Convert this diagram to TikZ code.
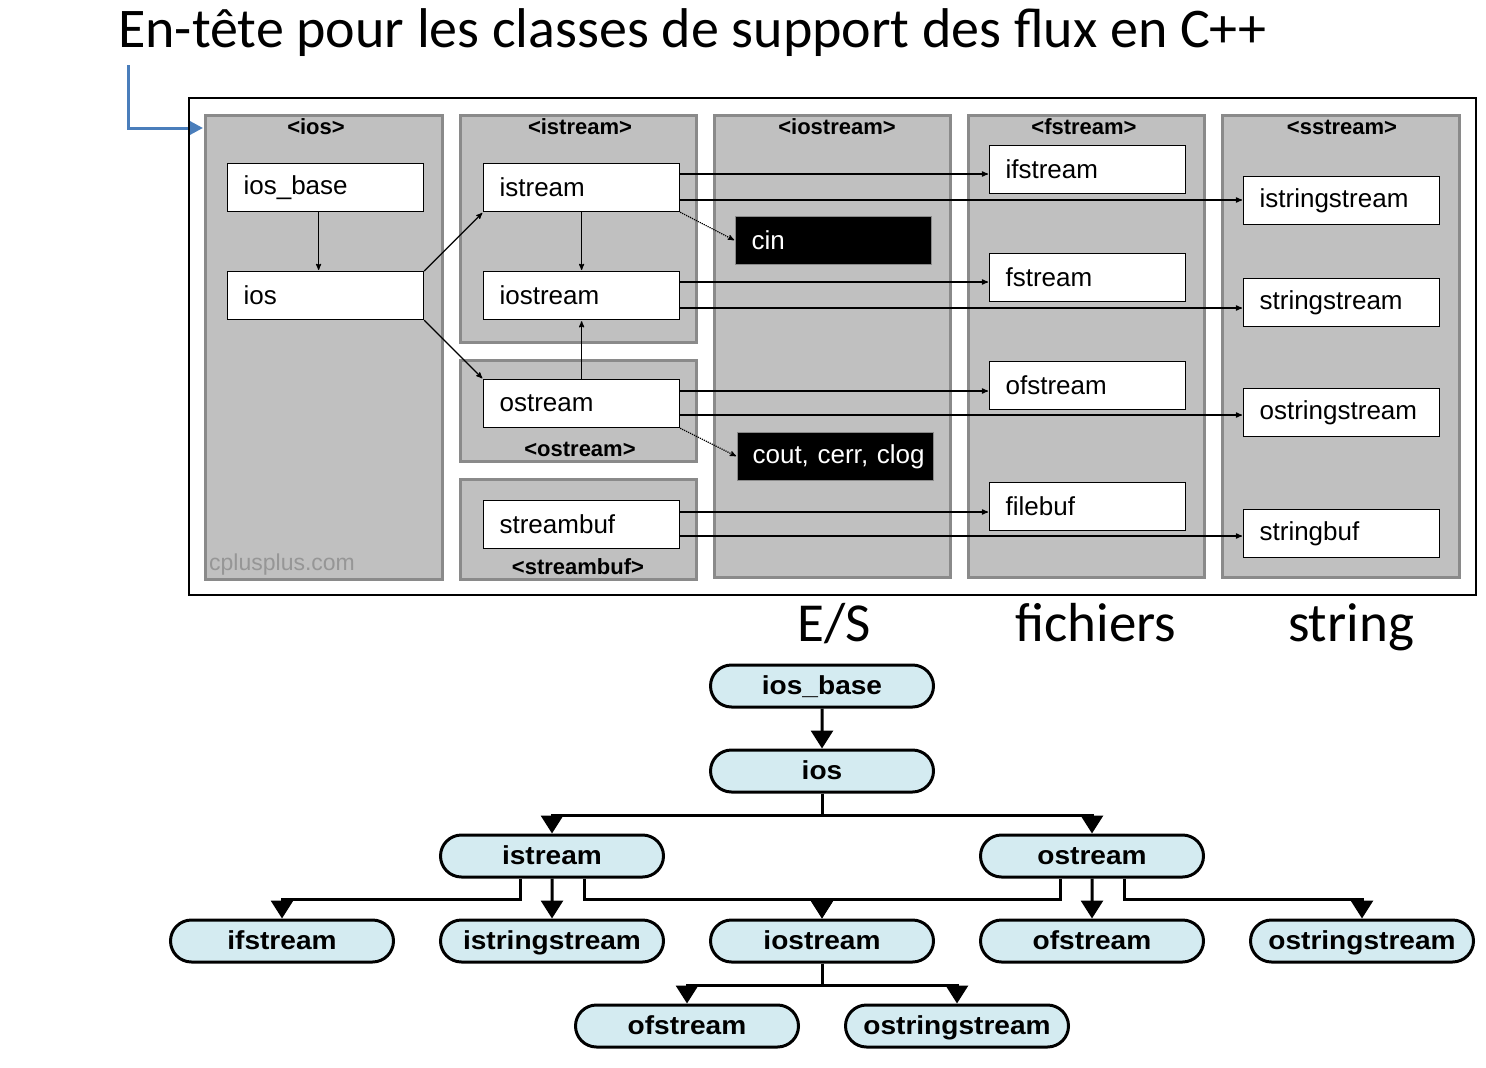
\documentclass[tikz,border=0pt]{standalone}
\usepackage{fontspec}
\setmainfont{Carlito}
\newfontfamily\arial{Liberation Sans}
\newfontfamily\arialbulle{Liberation Sans}[FakeStretch=1.08]
\usetikzlibrary{arrows,arrows.meta,shapes.misc,positioning}
\definecolor{gris}{HTML}{C0C0C0}
\definecolor{grisbord}{HTML}{8A8A8A}
\definecolor{bleuclair}{HTML}{D4EBF1}
\definecolor{bleuoffice}{HTML}{4A7EBB}

\begin{document}
\begin{tikzpicture}[x=1pt,y=-1pt,>=stealth',
    panneau/.style={draw=grisbord,line width=3pt,fill=gris},
    entete/.style={font=\arial\bfseries\fontsize{22}{24}\selectfont,inner sep=0pt},
    boite/.style={draw,fill=white,line width=1.2pt,anchor=north west,minimum height=48pt,
      text width=164pt,inner xsep=16pt,align=left,font=\arial\fontsize{26}{28}\selectfont},
    noire/.style={boite,fill=black,draw=grisbord,text=white},
    lien/.style={->,line width=1.2pt,shorten >=1pt},
    pointille/.style={lien,densely dotted},
    bulle/.style={rounded rectangle,draw,line width=3pt,fill=bleuclair,minimum width=223pt,
      minimum height=42pt,inner sep=0pt,text height=21pt,text depth=4pt,
      font=\arialbulle\bfseries\fontsize{26}{28}\selectfont},
    fleche/.style={-{Triangle[width=22pt,length=18pt]},line width=3pt},
    legende/.style={font=\fontsize{55}{60}\selectfont,inner sep=0pt,anchor=base}]
  \useasboundingbox (0,0) rectangle (1486,1068);

  % Titre et renvoi vers le cadre
  \node[font=\fontsize{56}{60}\selectfont,inner sep=0pt,anchor=base west] (titre) at (118,47)
    {En-tête pour les classes de support des flux en C++};
  \coordinate (depart) at (128,65);
  \coordinate (cadre) at (203,128);
  \draw[bleuoffice,line width=3pt,-{Triangle[width=13pt,length=13pt]}] (depart) |- (cadre);

  % Cadre et colonnes des en-têtes
  \draw[line width=1.5pt] (189,98) rectangle (1476,595);
  \draw[panneau] (205,115) rectangle (442,579);
  \draw[panneau] (460,115) rectangle (696,342);
  \draw[panneau] (460,360) rectangle (696,461);
  \draw[panneau] (460,479) rectangle (696,579);
  \draw[panneau] (714,115) rectangle (950,577);
  \draw[panneau] (968,115) rectangle (1204,577);
  \draw[panneau] (1222,115) rectangle (1459,577);

  \node[entete] (h-ios) at (316,127) {<ios>};
  \node[entete] (h-istream) at (580,127) {<istream>};
  \node[entete] (h-iostream) at (837,127) {<iostream>};
  \node[entete] (h-fstream) at (1084,127) {<fstream>};
  \node[entete] (h-sstream) at (1342,127) {<sstream>};
  \node[entete] (h-ostream) at (580,449) {<ostream>};
  \node[entete] (h-streambuf) at (578,567) {<streambuf>};
  \node[font=\arial\fontsize{23}{25}\selectfont,text=grisbord!90,inner sep=0pt,anchor=west]
    (site) at (209,565) {cplusplus.com};

  % Classes
  \node[boite] (ios_base) at (227,163) {ios\_base};
  \node[boite] (ios) at (227,271) {ios};
  \node[boite] (istream) at (483,163) {istream};
  \node[boite] (iostream) at (483,271) {iostream};
  \node[boite] (ostream) at (483,379) {ostream};
  \node[boite] (streambuf) at (483,500) {streambuf};
  \node[noire] (cin) at (735,216) {cin};
  \node[noire,inner xsep=15pt,text width=166pt] (cout) at (737,432) {\mbox{cout, cerr, clog}};
  \node[boite] (ifstream) at (989,145) {ifstream};
  \node[boite] (fstream) at (989,253) {fstream};
  \node[boite] (ofstream) at (989,361) {ofstream};
  \node[boite] (filebuf) at (989,482) {filebuf};
  \node[boite] (istringstream) at (1243,176) {istringstream};
  \node[boite] (stringstream) at (1243,278) {stringstream};
  \node[boite] (ostringstream) at (1243,388) {ostringstream};
  \node[boite] (stringbuf) at (1243,509) {stringbuf};

  % Héritage
  \draw[lien] ([xshift=-7pt]ios_base.south) -- ([xshift=-7pt]ios.north);
  \draw[lien] (ios.north east) -- (istream.south west);
  \draw[lien] (ios.south east) -- (ostream.north west);
  \draw[lien] (istream) -- (iostream);
  \draw[lien] (ostream) -- (iostream);
  \draw[pointille] (istream.south east) -- (cin.west);
  \draw[pointille] (ostream.south east) -- (cout.west);
  \draw[lien] (istream.east |- 0,174) -- (ifstream.west |- 0,174);
  \draw[lien] (istream.east |- 0,200) -- (istringstream.west |- 0,200);
  \draw[lien] (iostream.east |- 0,282) -- (fstream.west |- 0,282);
  \draw[lien] (iostream.east |- 0,308) -- (stringstream.west |- 0,308);
  \draw[lien] (ostream.east |- 0,391) -- (ofstream.west |- 0,391);
  \draw[lien] (ostream.east |- 0,415) -- (ostringstream.west |- 0,415);
  \draw[lien] (streambuf.east |- 0,512) -- (filebuf.west |- 0,512);
  \draw[lien] (streambuf.east |- 0,536) -- (stringbuf.west |- 0,536);

  \node[legende] (es) at (834,641) {E/S};
  \node[legende] (fichiers) at (1096,641) {fichiers};
  \node[legende] (string) at (1351,641) {string};

  % Arbre des classes
  \node[bulle] (b-base) at (822,686) {ios\_base};
  \node[bulle] (b-ios) at (822,771) {ios};
  \node[bulle] (b-istream) at (552,856) {istream};
  \node[bulle] (b-ostream) at (1092,856) {ostream};
  \node[bulle] (b-ifstream) at (282,941) {ifstream};
  \node[bulle] (b-istringstream) at (552,941) {istringstream};
  \node[bulle] (b-iostream) at (822,941) {iostream};
  \node[bulle] (b-ofstream) at (1092,941) {ofstream};
  \node[bulle] (b-ostringstream) at (1362,941) {ostringstream};
  \node[bulle] (b-ofstream2) at (687,1026) {ofstream};
  \node[bulle] (b-ostringstream2) at (957,1026) {ostringstream};

  \draw[fleche] (b-base) -- (b-ios);
  \draw[fleche] (b-ios.south) -- ++(0,22) -| (b-istream.north);
  \draw[fleche] (b-ios.south) -- ++(0,22) -| (b-ostream.north);
  \draw[fleche] ([xshift=-32pt]b-istream.south) -- ++(0,21) -| (b-ifstream.north);
  \draw[fleche] (b-istream) -- (b-istringstream);
  \draw[fleche] ([xshift=32pt]b-istream.south) -- ++(0,21) -| (b-iostream.north);
  \draw[fleche] ([xshift=-32pt]b-ostream.south) -- ++(0,21) -| (b-iostream.north);
  \draw[fleche] (b-ostream) -- (b-ofstream);
  \draw[fleche] ([xshift=32pt]b-ostream.south) -- ++(0,21) -| (b-ostringstream.north);
  \draw[fleche] (b-iostream.south) -- ++(0,22) -| (b-ofstream2.north);
  \draw[fleche] (b-iostream.south) -- ++(0,22) -| (b-ostringstream2.north);
\end{tikzpicture}
\end{document}
